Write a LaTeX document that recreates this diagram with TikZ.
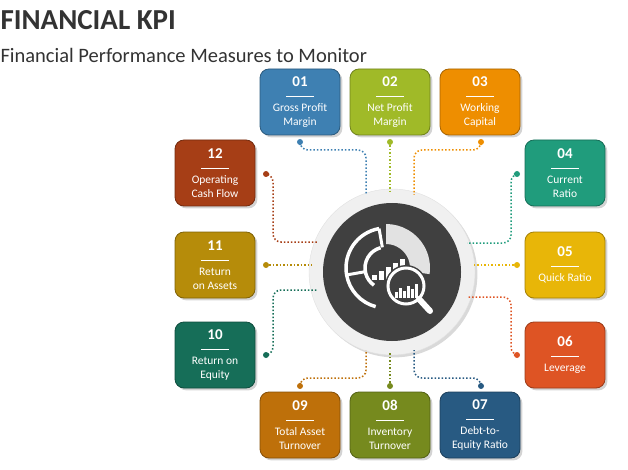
\documentclass[tikz,border=0pt]{standalone}
\usepackage{fontspec}
\setmainfont{Carlito}
\usetikzlibrary{shadows}
\definecolor{cOne}{RGB}{62,128,178}
\definecolor{cTwo}{RGB}{160,186,40}
\definecolor{cThree}{RGB}{238,142,0}
\definecolor{cFour}{RGB}{32,156,124}
\definecolor{cFive}{RGB}{232,182,8}
\definecolor{cSix}{RGB}{222,84,36}
\definecolor{cSeven}{RGB}{40,90,130}
\definecolor{cEight}{RGB}{118,138,30}
\definecolor{cNine}{RGB}{190,112,10}
\definecolor{cTen}{RGB}{22,110,88}
\definecolor{cEleven}{RGB}{182,140,10}
\definecolor{cTwelve}{RGB}{166,62,22}
\definecolor{hub}{RGB}{64,64,64}
\tikzset{
  kpibox/.style={rectangle, rounded corners=9pt, minimum width=80pt, minimum height=66pt,
    fill=#1, draw=#1!70!black, line width=0.8pt, text=white, align=center,
    font=\fontsize{11.5}{13.5}\selectfont, drop shadow={opacity=0.35}},
  link/.style={dotted, line width=1.5pt, rounded corners=8pt, draw=#1},
  dotend/.style={circle, fill=#1, inner sep=0pt, minimum size=6pt}
}
\newcommand{\kpi}[2]{{\bfseries\fontsize{15}{15}\selectfont #1}\\[-3pt]\rule{28pt}{1.3pt}\\[1pt]#2}
\begin{document}
\begin{tikzpicture}[x=1pt,y=-1pt]
\useasboundingbox (0,0) rectangle (628,470);
\node[anchor=west, font=\bfseries\fontsize{29}{29}\selectfont, text=black!80] (title) at (-3,20) {FINANCIAL KPI};
\node[anchor=west, font=\fontsize{20.5}{20.5}\selectfont, text=black!80] (sub) at (-3,55) {Financial Performance Measures to Monitor};
% boxes
\node[kpibox=cOne] (b1) at (300,102) {\kpi{01}{Gross Profit\\Margin}};
\node[kpibox=cTwo] (b2) at (390,102) {\kpi{02}{Net Profit\\Margin}};
\node[kpibox=cThree] (b3) at (480,102) {\kpi{03}{Working\\Capital}};
\node[kpibox=cFour] (b4) at (565,173) {\kpi{04}{Current\\Ratio}};
\node[kpibox=cFive] (b5) at (565,265) {\kpi{05}{Quick Ratio}};
\node[kpibox=cSix] (b6) at (565,355) {\kpi{06}{Leverage}};
\node[kpibox=cSeven] (b7) at (480,425) {\kpi{07}{Debt-to-\\Equity Ratio}};
\node[kpibox=cEight] (b8) at (390,425) {\kpi{08}{Inventory\\Turnover}};
\node[kpibox=cNine] (b9) at (300,425) {\kpi{09}{Total Asset\\Turnover}};
\node[kpibox=cTen] (b10) at (215,355) {\kpi{10}{Return on\\Equity}};
\node[kpibox=cEleven] (b11) at (215,265) {\kpi{11}{Return\\on Assets}};
\node[kpibox=cTwelve] (b12) at (215,173) {\kpi{12}{Operating\\Cash Flow}};
% hub
\node[circle, minimum size=166pt, fill=black!6, draw=black!12, drop shadow={opacity=0.3}] (ring) at (392,272) {};
\node[circle, minimum size=138pt, fill=hub] (hub) at (392,272) {};
% end dots
\node[dotend=cOne] (d1) at (300,142) {};
\node[dotend=cTwo] (d2) at (390,142) {};
\node[dotend=cThree] (d3) at (481,142) {};
\node[dotend=cFour] (d4) at (517,174) {};
\node[dotend=cFive] (d5) at (517,265) {};
\node[dotend=cSix] (d6) at (517,355) {};
\node[dotend=cSeven] (d7) at (481,386) {};
\node[dotend=cEight] (d8) at (390,386) {};
\node[dotend=cNine] (d9) at (300,386) {};
\node[dotend=cTen] (d10) at (266,355) {};
\node[dotend=cEleven] (d11) at (266,265) {};
\node[dotend=cTwelve] (d12) at (266,174) {};
% links
\draw[link=cOne] (d1) |- (366,150) -- (366,195);
\draw[link=cTwo] (d2) -- (390,192);
\draw[link=cThree] (d3) |- (414,150) -- (414,195);
\draw[link=cFour] (d4) -| (511,243) -- (467,243);
\draw[link=cFive] (d5) -- (472,265);
\draw[link=cSix] (d6) -| (511,297) -- (467,297);
\draw[link=cSeven] (d7) |- (414,378) -- (414,350);
\draw[link=cEight] (d8) -- (390,352);
\draw[link=cNine] (d9) |- (366,378) -- (366,350);
\draw[link=cTen] (d10) -| (273,290) -- (317,290);
\draw[link=cEleven] (d11) -- (312,265);
\draw[link=cTwelve] (d12) -| (273,242) -- (317,242);
% icon
\begin{scope}[shift={(386,268)}, yscale=-1]
  \fill[white!85!hub] (90:44) arc (90:-8:44) -- (-8:24) arc (-8:90:24) -- cycle;
  \draw[white, line width=3.5pt] (100:40) arc (100:255:40);
  \draw[white, line width=3.5pt] (105:21) arc (105:235:21);
  \draw[white, line width=3pt] (100:40) -- (100:21);
  \draw[white, line width=3pt] (190:40) -- (190:21);
  \foreach \i/\h in {0/5,1/9,2/13,3/17,4/21}
    \fill[white] (-14+\i*7,-12) rectangle +(4.5,\h);
  \fill[hub] (20,-18) circle (21);
  \draw[white, line width=3pt] (20,-18) circle (18);
  \draw[white, line width=6pt, line cap=round] (33,-31) -- (44,-43);
  \foreach \i/\h in {0/6,1/10,2/7,3/12,4/9,5/14}
    \fill[white] (9+\i*4,-30) rectangle +(2.5,\h);
\end{scope}
\end{tikzpicture}
\end{document}
